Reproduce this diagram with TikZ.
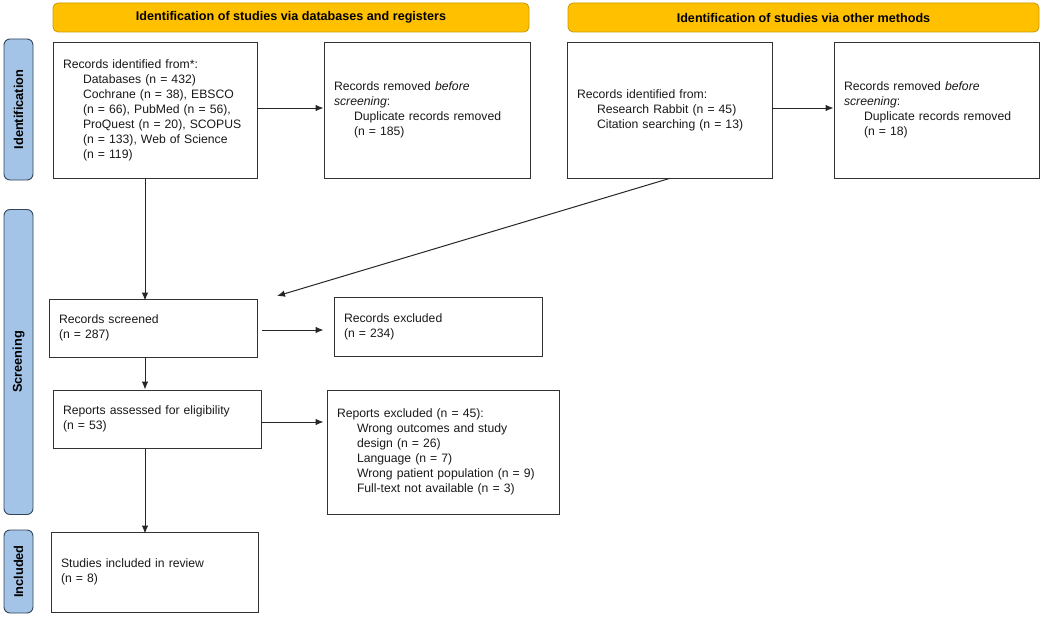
\documentclass[tikz,border=0pt]{standalone}
\usepackage{fontspec}
\setmainfont{Liberation Sans}
\usetikzlibrary{arrows.meta}
\definecolor{hdrfill}{HTML}{FFC000}
\definecolor{hdrdraw}{HTML}{C89B00}
\definecolor{sidefill}{HTML}{A3C3E7}
\definecolor{sidedraw}{HTML}{34465C}
\definecolor{boxdraw}{HTML}{333333}
\tikzset{
  txt/.style={font=\fontsize{12.2}{15}\selectfont, text=black!90},
  box/.style={txt, draw=boxdraw, line width=0.9pt, rectangle, inner xsep=10pt, inner ysep=2pt, align=left},
  hdr/.style={draw=hdrdraw, fill=hdrfill, line width=0.8pt, rounded corners=5pt, font=\fontsize{12.6}{14}\selectfont\bfseries, align=center},
  side/.style={draw=sidedraw, fill=sidefill, line width=0.9pt, rounded corners=6pt, font=\fontsize{12.8}{14}\selectfont\bfseries},
  arr/.style={draw=black!85, line width=1pt, -{Latex[length=8pt,width=6.5pt]}}
}
\newcommand{\ind}{\hspace*{20pt}}
\begin{document}
\begin{tikzpicture}[x=1pt,y=-1pt]
\useasboundingbox (0,0) rectangle (1049,618);
% headers
\node[hdr, minimum width=476, minimum height=29] (H1) at (291,17.5) {Identification of studies via databases and registers};
\node[hdr, minimum width=471, minimum height=29] (H2) at (803.5,17.5) {Identification of studies via other methods};
% side labels
\node[side, minimum width=141, minimum height=29, rotate=90] (S1) at (18.5,109.5) {Identification};
\node[side, minimum width=305, minimum height=29, rotate=90] (S2) at (18.5,362) {Screening};
\node[side, minimum width=83, minimum height=29, rotate=90] (S3) at (18.5,571.5) {Included};
% boxes
\node[box, minimum width=204, minimum height=136, text width=184] (B1) at (155,110)
  {Records identified from*:\\
   \ind Databases (n = 432)\\
   \ind Cochrane (n = 38), EBSCO\\
   \ind (n = 66), PubMed (n = 56),\\
   \ind ProQuest (n = 20), SCOPUS\\
   \ind (n = 133), Web of Science\\
   \ind (n = 119)};
\node[box, minimum width=206, minimum height=136, text width=186] (B2) at (427,110)
  {Records removed \textit{before}\\
   \textit{screening}:\\
   \ind Duplicate records removed\\
   \ind (n = 185)\\[6pt]};
\node[box, minimum width=205, minimum height=136, text width=185] (B3) at (669.5,110)
  {Records identified from:\\
   \ind Research Rabbit (n = 45)\\
   \ind Citation searching (n = 13)\\[8pt]};
\node[box, minimum width=205, minimum height=136, text width=185] (B4) at (936.5,110)
  {Records removed \textit{before}\\
   \textit{screening}:\\
   \ind Duplicate records removed\\
   \ind (n = 18)\\[6pt]};
\node[box, minimum width=208, minimum height=58, text width=188] (B5) at (153,328)
  {Records screened\\(n = 287)};
\node[box, minimum width=208, minimum height=59, text width=188] (R1) at (438,326.5)
  {Records excluded\\(n = 234)};
\node[box, minimum width=208, minimum height=58, text width=188] (B6) at (157,419)
  {Reports assessed for eligibility\\(n = 53)};
\node[box, minimum width=232, minimum height=124, text width=212] (R2) at (443,452)
  {Reports excluded (n = 45):\\
   \ind Wrong outcomes and study\\
   \ind design (n = 26)\\
   \ind Language (n = 7)\\
   \ind Wrong patient population (n = 9)\\
   \ind Full-text not available (n = 3)};
\node[box, minimum width=207, minimum height=80, text width=187] (B7) at (154.5,572)
  {Studies included in review\\(n = 8)};
% connectors
\coordinate (v1) at (145,178);
\coordinate (v2) at (145,357);
\coordinate (v3) at (145,448);
\coordinate (d1) at (277,296);
\draw[arr] (B1.east |- 0,108) -- (B2.west |- 0,108);
\draw[arr] (B3.east |- 0,108) -- (B4.west |- 0,108);
\draw[arr] (v1) -- ([yshift=-2pt]v1 |- B5.north);
\draw[arr] (B3.south) -- (d1);
\draw[arr, shorten <=5pt, shorten >=10pt] (B5.east |- 0,330) -- (R1.west |- 0,330);
\draw[arr, shorten <=1pt, shorten >=3pt] (B6.east |- 0,422) -- (R2.west |- 0,422);
\draw[arr] (v2) -- (v2 |- B6.north);
\draw[arr] (v3) -- ([yshift=-2pt]v3 |- B7.north);
\end{tikzpicture}
\end{document}
